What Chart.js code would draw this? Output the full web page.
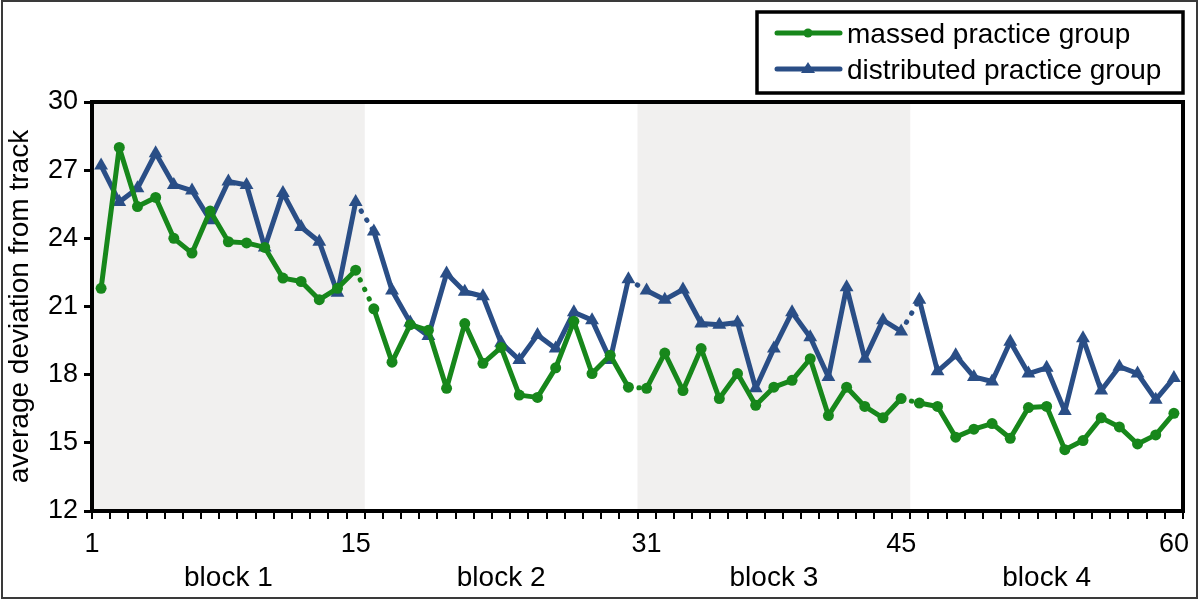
<!DOCTYPE html>
<html>
<head>
<meta charset="utf-8">
<script src="https://cdn.jsdelivr.net/npm/chart.js@4.4.1/dist/chart.umd.min.js"></script>
<style>
  html, body { margin: 0; padding: 0; background: #fff; }
  #wrap { width: 1200px; height: 601px; position: relative; }
</style>
</head>
<body>
<div id="wrap"><canvas id="chart"></canvas></div>
<script>
/* global Chart */

// trial numbers 1..60
const trials = Array.from({ length: 60 }, (_, i) => i + 1);

const massed = [
  21.8, 28.0, 25.4, 25.8, 24.0, 23.35, 25.2, 23.85, 23.8, 23.6, 22.25, 22.1, 21.3, 21.8, 22.6,
  20.9, 18.55, 20.2, 19.95, 17.4, 20.25, 18.5, 19.2, 17.1, 17.0, 18.3, 20.35, 18.05, 18.85, 17.45,
  17.4, 18.95, 17.3, 19.15, 16.95, 18.05, 16.65, 17.45, 17.75, 18.7, 16.2, 17.45, 16.6, 16.1, 16.95,
  16.75, 16.6, 15.25, 15.6, 15.85, 15.2, 16.55, 16.6, 14.7, 15.1, 16.1, 15.7, 14.95, 15.35, 16.3
];

const distributed = [
  27.2, 25.6, 26.2, 27.75, 26.35, 26.1, 24.8, 26.5, 26.35, 23.6, 26.0, 24.5, 23.85, 21.6, 25.6,
  24.3, 21.7, 20.3, 19.7, 22.45, 21.65, 21.45, 19.4, 18.65, 19.75, 19.15, 20.75, 20.4, 18.65, 22.2,
  21.7, 21.3, 21.75, 20.25, 20.2, 20.3, 17.4, 19.15, 20.75, 19.65, 17.9, 21.85, 18.7, 20.4, 19.9,
  21.3, 18.15, 18.85, 17.9, 17.7, 19.45, 18.05, 18.3, 16.4, 19.6, 17.3, 18.35, 18.05, 16.9, 17.85
];

const seriesNames = ["massed practice group", "distributed practice group"];
const seriesColors = ["#17871b", "#2a4e86"];

const blockNames = ["block 1", "block 2", "block 3", "block 4"];
const blockEdges = [0.5, 15.5, 30.5, 45.5, 60.5];
const shadedBlocks = [0, 2];

const xTickValues = [0.5, 15, 31, 45, 60];
const xTickText = ["1", "15", "31", "45", "60"];

const FONT = "'Liberation Sans', Arial, Helvetica, sans-serif";

// the last trial of each block connects to the next with a dotted line
function isBlockGap(ctx){
  const t = trials[ctx.p0DataIndex];
  return t === 15 || t === 30 || t === 45;
}

const segmentStyle = {
  borderDash: ctx => isBlockGap(ctx) ? [0.5, 10] : undefined,
  borderWidth: ctx => isBlockGap(ctx) ? 5 : undefined,
  borderCapStyle: ctx => isBlockGap(ctx) ? "round" : undefined
};

const blockShading = {
  id: "blockShading",
  beforeDatasetsDraw(chart){
    const { ctx, chartArea, scales } = chart;
    ctx.save();
    ctx.fillStyle = "#f1f0ef";
    for (const b of shadedBlocks){
      const x0 = scales.x.getPixelForValue(blockEdges[b]);
      const x1 = scales.x.getPixelForValue(blockEdges[b + 1]);
      ctx.fillRect(x0, chartArea.top, x1 - x0, chartArea.bottom - chartArea.top);
    }
    ctx.restore();
  }
};

const frameAndLabels = {
  id: "frameAndLabels",
  afterDraw(chart){
    const { ctx, chartArea, scales } = chart;
    ctx.save();

    // plot frame
    ctx.strokeStyle = "#000";
    ctx.lineWidth = 4;
    ctx.strokeRect(chartArea.left, chartArea.top, chartArea.right - chartArea.left, chartArea.bottom - chartArea.top);

    // x tick labels and block labels
    ctx.fillStyle = "#000";
    ctx.textAlign = "center";
    ctx.textBaseline = "middle";
    ctx.font = `27px ${FONT}`;
    xTickValues.forEach((v, i) => {
      ctx.fillText(xTickText[i], scales.x.getPixelForValue(v), chartArea.bottom + 34);
    });
    ctx.font = `28px ${FONT}`;
    blockNames.forEach((name, i) => {
      const mid = (blockEdges[i] + blockEdges[i + 1]) / 2;
      ctx.fillText(name, scales.x.getPixelForValue(mid), chartArea.bottom + 67);
    });

    // legend
    const lx = 757, ly = 12, lw = 426, lh = 81;
    ctx.fillStyle = "#fff";
    ctx.fillRect(lx, ly, lw, lh);
    ctx.lineWidth = 3.5;
    ctx.strokeStyle = "#000";
    ctx.strokeRect(lx, ly, lw, lh);
    const rows = [33, 69];
    rows.forEach((y, i) => {
      ctx.strokeStyle = seriesColors[i];
      ctx.fillStyle = seriesColors[i];
      ctx.lineWidth = 5;
      ctx.lineCap = "round";
      ctx.beginPath();
      ctx.moveTo(777, y);
      ctx.lineTo(840, y);
      ctx.stroke();
      ctx.beginPath();
      if (i === 0){
        ctx.arc(808, y, 4.5, 0, Math.PI * 2);
      } else {
        ctx.moveTo(808, y - 7);
        ctx.lineTo(815, y + 4);
        ctx.lineTo(801, y + 4);
        ctx.closePath();
      }
      ctx.fill();
      ctx.fillStyle = "#000";
      ctx.textAlign = "left";
      ctx.font = `28px ${FONT}`;
      ctx.fillText(seriesNames[i], 847, y + 2);
    });

    // outer figure frame
    ctx.strokeStyle = "#3a3a3a";
    ctx.lineWidth = 2;
    ctx.strokeRect(2, 1, 1195, 597);
    ctx.restore();
  }
};

const ctx = document.getElementById("chart").getContext("2d");

new Chart(ctx, {
  type: "line",
  data: {
    labels: trials,
    datasets: [
      {
        label: seriesNames[0],
        data: trials.map((t, i) => ({ x: t, y: massed[i] })),
        borderColor: seriesColors[0],
        backgroundColor: seriesColors[0],
        borderWidth: 5,
        borderJoinStyle: "round",
        pointStyle: "circle",
        pointRadius: 5.5,
        pointBorderWidth: 0,
        tension: 0,
        segment: segmentStyle
      },
      {
        label: seriesNames[1],
        data: trials.map((t, i) => ({ x: t, y: distributed[i] })),
        borderColor: seriesColors[1],
        backgroundColor: seriesColors[1],
        borderWidth: 5,
        borderJoinStyle: "round",
        pointStyle: "triangle",
        pointRadius: 8,
        pointBorderWidth: 0,
        tension: 0,
        segment: segmentStyle
      }
    ]
  },
  options: {
    responsive: true,
    maintainAspectRatio: false,
    animation: false,
    layout: { padding: { top: 102, right: 17, left: 0, bottom: 0 } },
    plugins: {
      legend: { display: false },
      tooltip: { enabled: false }
    },
    scales: {
      x: {
        type: "linear",
        min: 0.5,
        max: 60.5,
        afterBuildTicks(scale){
          scale.ticks = Array.from({ length: 61 }, (_, i) => ({ value: 0.5 + i }));
        },
        afterFit(scale){ scale.height = 90; },
        border: { display: false },
        grid: {
          drawOnChartArea: false,
          drawTicks: true,
          tickLength: 8,
          lineWidth: 2,
          color: "#000"
        },
        ticks: { display: false }
      },
      y: {
        min: 12,
        max: 30,
        afterFit(scale){ scale.width = 92; },
        border: { display: false },
        grid: {
          drawOnChartArea: false,
          drawTicks: true,
          tickLength: 8,
          lineWidth: 3,
          color: "#000"
        },
        ticks: {
          stepSize: 3,
          color: "#000",
          padding: 6,
          font: { family: FONT, size: 27 }
        },
        title: {
          display: true,
          text: "average deviation from track",
          color: "#000",
          font: { family: FONT, size: 28 },
          padding: { top: 3, bottom: 0 }
        }
      }
    }
  },
  plugins: [blockShading, frameAndLabels]
});
</script>
</body>
</html>
